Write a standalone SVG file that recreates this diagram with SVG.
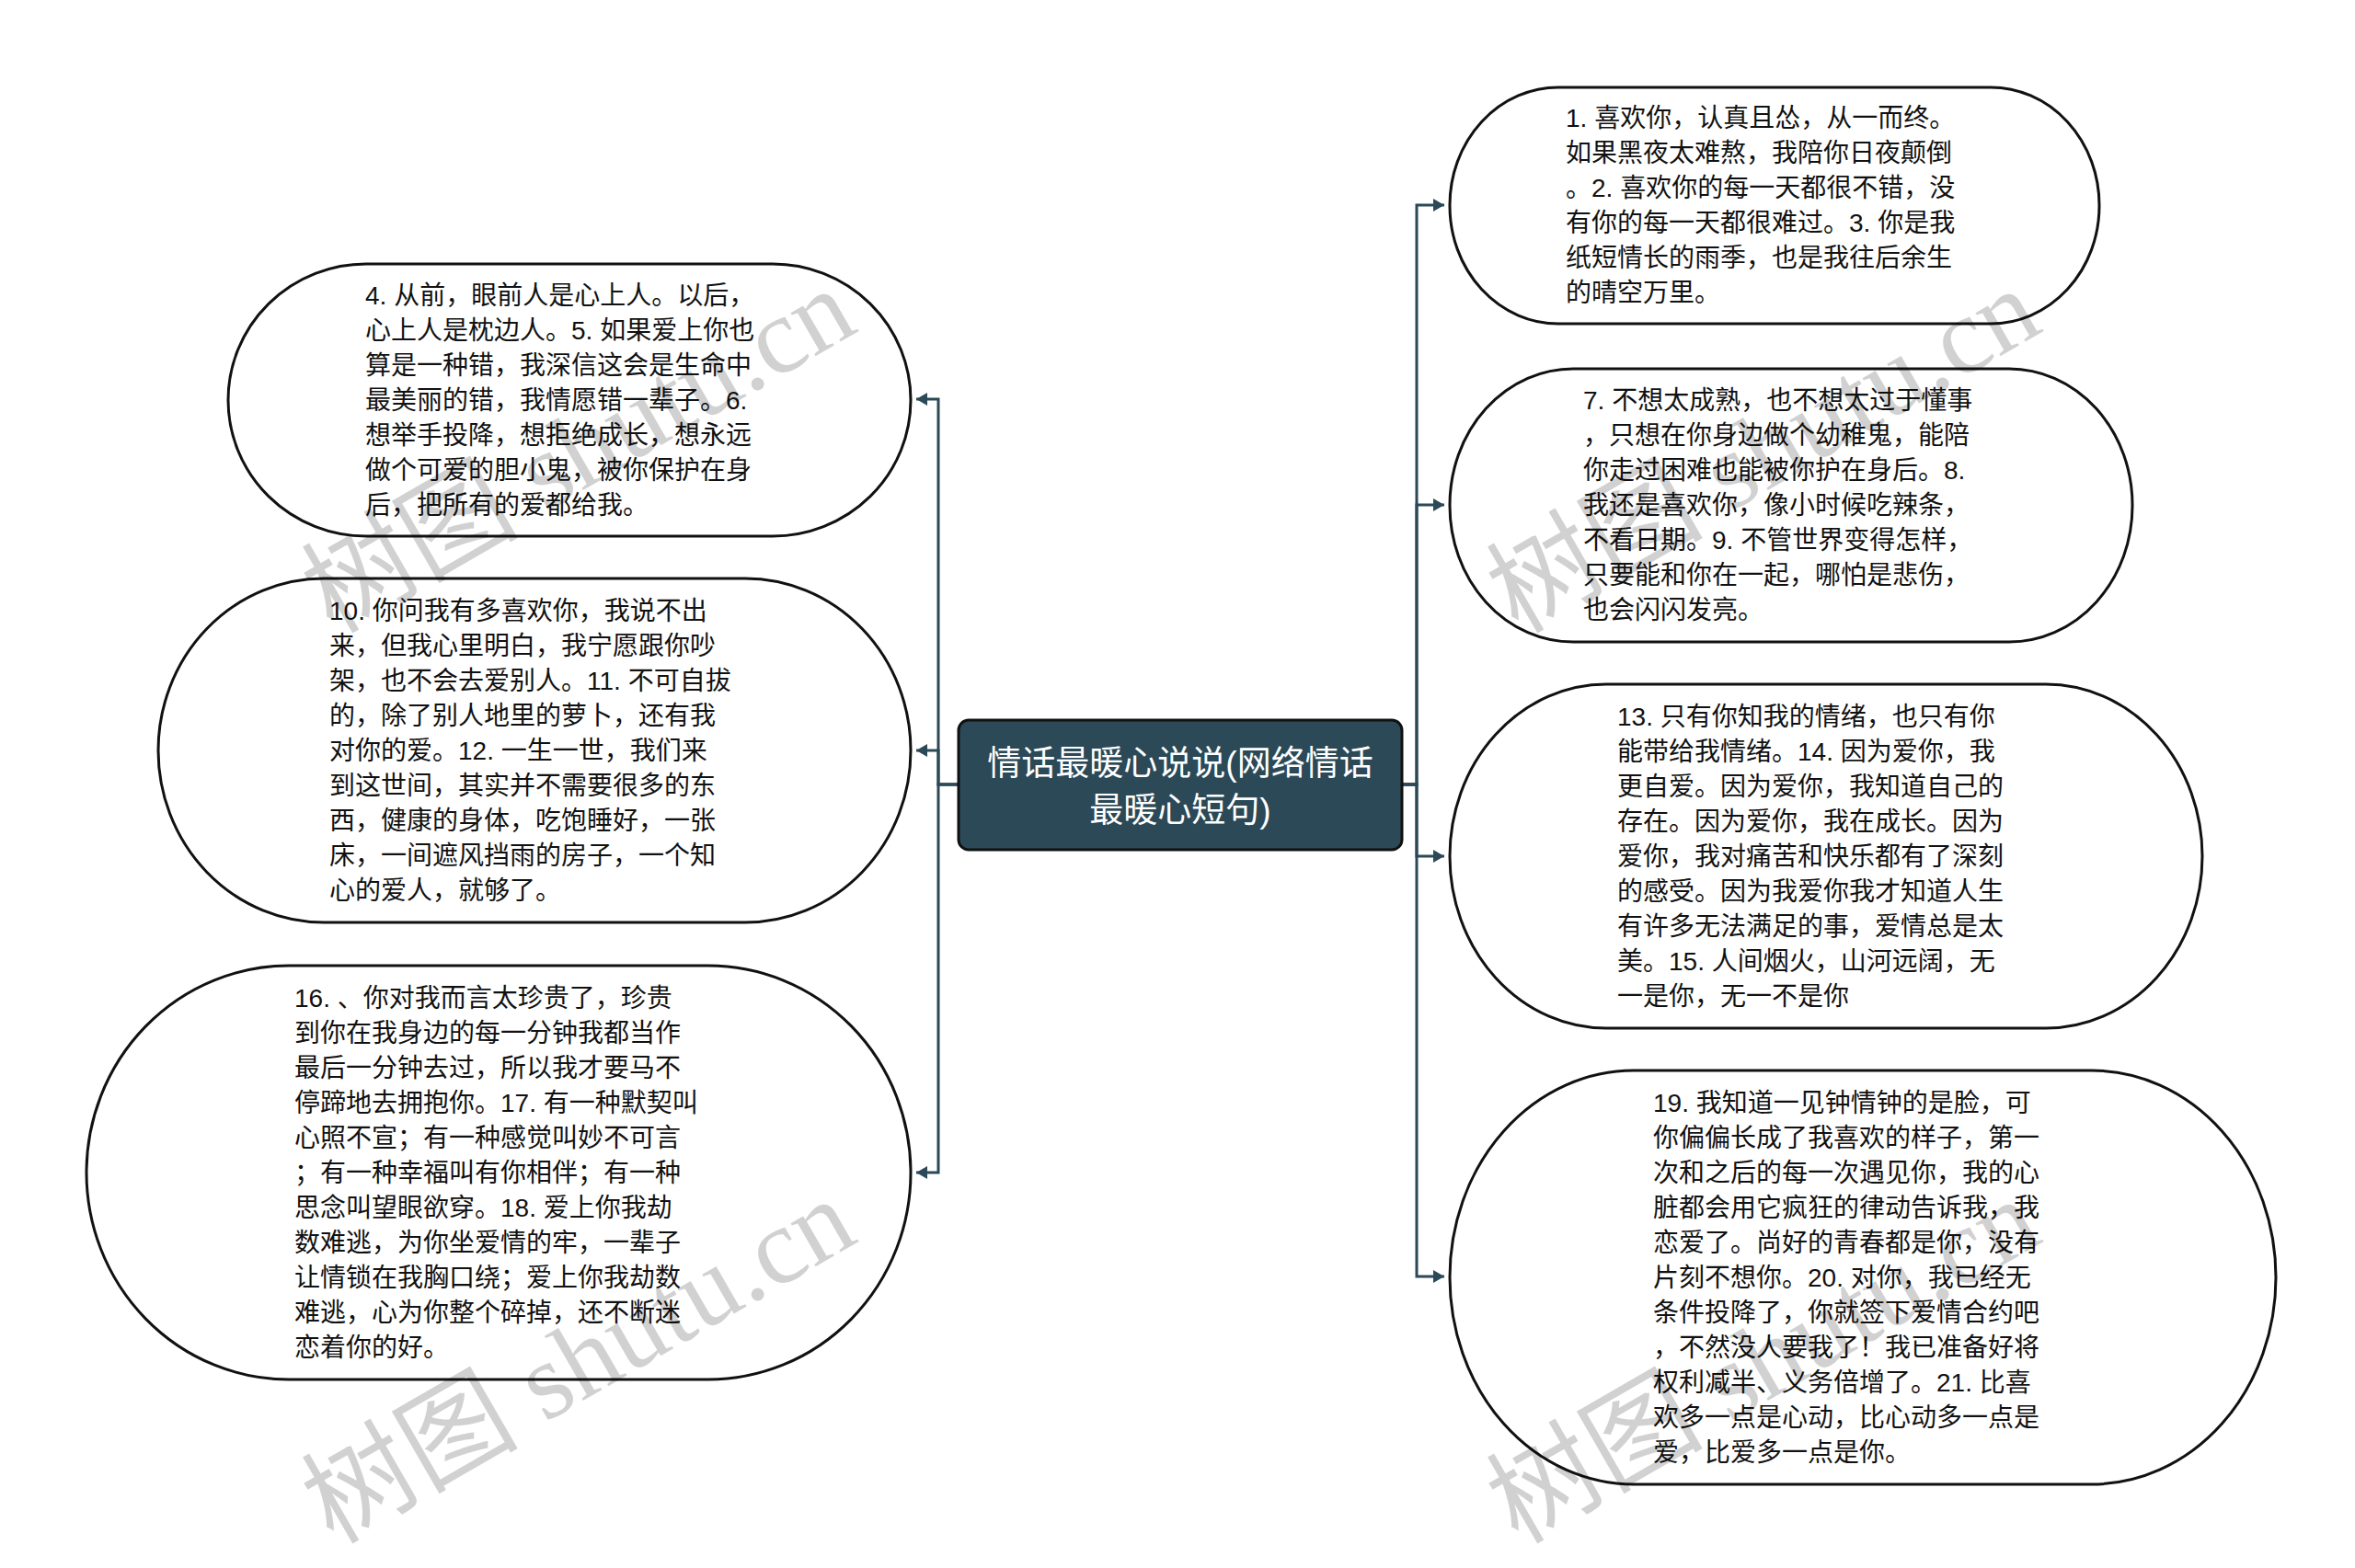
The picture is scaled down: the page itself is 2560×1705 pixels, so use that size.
<svg xmlns="http://www.w3.org/2000/svg" width="2560" height="1705" viewBox="0 0 2560 1705">
<style>
.node{fill:#ffffff;stroke:#111111;stroke-width:3}
.root{fill:#2b4957;stroke:#111111;stroke-width:3}
.t{font-family:"Liberation Sans","Noto Sans CJK SC",sans-serif;font-size:28px;fill:#111111}
.rt{font-family:"Liberation Sans","Noto Sans CJK SC",sans-serif;font-size:37px;fill:#ffffff;text-anchor:middle}
.edge{fill:none;stroke:#2b4957;stroke-width:3}
.wm{font-family:"Liberation Serif","Noto Sans CJK SC",serif;font-size:118px;fill:#000000;fill-opacity:0.18}
</style>
<defs>
<marker id="arr" markerUnits="userSpaceOnUse" markerWidth="14" markerHeight="14" refX="12" refY="7" orient="auto">
<path d="M0,0 L12,7 L0,14 Z" fill="#2b4957"/>
</marker>
</defs>
<rect x="0" y="0" width="2560" height="1705" fill="#ffffff"/>

<g id="connectors">
<path class="edge" marker-end="url(#arr)" d="M1042,853 H1020 V434 H996"/>
<path class="edge" marker-end="url(#arr)" d="M1042,853 H1020 V816 H996"/>
<path class="edge" marker-end="url(#arr)" d="M1042,853 H1020 V1275 H996"/>
<path class="edge" marker-end="url(#arr)" d="M1524,853 H1540 V223 H1570"/>
<path class="edge" marker-end="url(#arr)" d="M1524,853 H1540 V549 H1570"/>
<path class="edge" marker-end="url(#arr)" d="M1524,853 H1540 V931 H1570"/>
<path class="edge" marker-end="url(#arr)" d="M1524,853 H1540 V1388 H1570"/>
</g>

<g id="root">
<rect class="root" x="1042" y="783" width="482" height="141" rx="11" ry="11"/>
<text class="rt" x="1283" y="843">情话最暖心说说(网络情话</text>
<text class="rt" x="1283" y="894">最暖心短句)</text>
</g>

<g id="n1">
<rect class="node" x="1576" y="95" width="706" height="257" rx="118" ry="128"/>
<text class="t" x="1702" y="138"><tspan x="1702">1. 喜欢你，认真且怂，从一而终。</tspan><tspan x="1702" dy="38">如果黑夜太难熬，我陪你日夜颠倒</tspan><tspan x="1702" dy="38">。2. 喜欢你的每一天都很不错，没</tspan><tspan x="1702" dy="38">有你的每一天都很难过。3. 你是我</tspan><tspan x="1702" dy="38">纸短情长的雨季，也是我往后余生</tspan><tspan x="1702" dy="38">的晴空万里。</tspan></text>
</g>

<g id="n4">
<rect class="node" x="248" y="287" width="742" height="296" rx="150" ry="148"/>
<text class="t" x="397" y="331"><tspan x="397">4. 从前，眼前人是心上人。以后，</tspan><tspan x="397" dy="38">心上人是枕边人。5. 如果爱上你也</tspan><tspan x="397" dy="38">算是一种错，我深信这会是生命中</tspan><tspan x="397" dy="38">最美丽的错，我情愿错一辈子。6.</tspan><tspan x="397" dy="38">想举手投降，想拒绝成长，想永远</tspan><tspan x="397" dy="38">做个可爱的胆小鬼，被你保护在身</tspan><tspan x="397" dy="38">后，把所有的爱都给我。</tspan></text>
</g>

<g id="n7">
<rect class="node" x="1576" y="401" width="742" height="297" rx="134" ry="148"/>
<text class="t" x="1721" y="445"><tspan x="1721">7. 不想太成熟，也不想太过于懂事</tspan><tspan x="1721" dy="38">，只想在你身边做个幼稚鬼，能陪</tspan><tspan x="1721" dy="38">你走过困难也能被你护在身后。8.</tspan><tspan x="1721" dy="38">我还是喜欢你，像小时候吃辣条，</tspan><tspan x="1721" dy="38">不看日期。9. 不管世界变得怎样，</tspan><tspan x="1721" dy="38">只要能和你在一起，哪怕是悲伤，</tspan><tspan x="1721" dy="38">也会闪闪发亮。</tspan></text>
</g>

<g id="n10">
<rect class="node" x="172" y="629" width="818" height="374" rx="180" ry="187"/>
<text class="t" x="358" y="674"><tspan x="358">10. 你问我有多喜欢你，我说不出</tspan><tspan x="358" dy="38">来，但我心里明白，我宁愿跟你吵</tspan><tspan x="358" dy="38">架，也不会去爱别人。11. 不可自拔</tspan><tspan x="358" dy="38">的，除了别人地里的萝卜，还有我</tspan><tspan x="358" dy="38">对你的爱。12. 一生一世，我们来</tspan><tspan x="358" dy="38">到这世间，其实并不需要很多的东</tspan><tspan x="358" dy="38">西，健康的身体，吃饱睡好，一张</tspan><tspan x="358" dy="38">床，一间遮风挡雨的房子，一个知</tspan><tspan x="358" dy="38">心的爱人，就够了。</tspan></text>
</g>

<g id="n13">
<rect class="node" x="1576" y="744" width="818" height="374" rx="170" ry="187"/>
<text class="t" x="1758" y="789"><tspan x="1758">13. 只有你知我的情绪，也只有你</tspan><tspan x="1758" dy="38">能带给我情绪。14. 因为爱你，我</tspan><tspan x="1758" dy="38">更自爱。因为爱你，我知道自己的</tspan><tspan x="1758" dy="38">存在。因为爱你，我在成长。因为</tspan><tspan x="1758" dy="38">爱你，我对痛苦和快乐都有了深刻</tspan><tspan x="1758" dy="38">的感受。因为我爱你我才知道人生</tspan><tspan x="1758" dy="38">有许多无法满足的事，爱情总是太</tspan><tspan x="1758" dy="38">美。15. 人间烟火，山河远阔，无</tspan><tspan x="1758" dy="38">一是你，无一不是你</tspan></text>
</g>

<g id="n16">
<rect class="node" x="94" y="1050" width="896" height="450" rx="220" ry="225"/>
<text class="t" x="320" y="1095"><tspan x="320">16. 、你对我而言太珍贵了，珍贵</tspan><tspan x="320" dy="38">到你在我身边的每一分钟我都当作</tspan><tspan x="320" dy="38">最后一分钟去过，所以我才要马不</tspan><tspan x="320" dy="38">停蹄地去拥抱你。17. 有一种默契叫</tspan><tspan x="320" dy="38">心照不宣；有一种感觉叫妙不可言</tspan><tspan x="320" dy="38">；有一种幸福叫有你相伴；有一种</tspan><tspan x="320" dy="38">思念叫望眼欲穿。18. 爱上你我劫</tspan><tspan x="320" dy="38">数难逃，为你坐爱情的牢，一辈子</tspan><tspan x="320" dy="38">让情锁在我胸口绕；爱上你我劫数</tspan><tspan x="320" dy="38">难逃，心为你整个碎掉，还不断迷</tspan><tspan x="320" dy="38">恋着你的好。</tspan></text>
</g>

<g id="n19">
<rect class="node" x="1576" y="1164" width="898" height="450" rx="200" ry="225"/>
<text class="t" x="1797" y="1209"><tspan x="1797">19. 我知道一见钟情钟的是脸，可</tspan><tspan x="1797" dy="38">你偏偏长成了我喜欢的样子，第一</tspan><tspan x="1797" dy="38">次和之后的每一次遇见你，我的心</tspan><tspan x="1797" dy="38">脏都会用它疯狂的律动告诉我，我</tspan><tspan x="1797" dy="38">恋爱了。尚好的青春都是你，没有</tspan><tspan x="1797" dy="38">片刻不想你。20. 对你，我已经无</tspan><tspan x="1797" dy="38">条件投降了，你就签下爱情合约吧</tspan><tspan x="1797" dy="38">，不然没人要我了！我已准备好将</tspan><tspan x="1797" dy="38">权利减半、义务倍增了。21. 比喜</tspan><tspan x="1797" dy="38">欢多一点是心动，比心动多一点是</tspan><tspan x="1797" dy="38">爱，比爱多一点是你。</tspan></text>
</g>

<g id="watermarks">
<text class="wm" transform="translate(362,690) rotate(-30)">树图 shutu.cn</text>
<text class="wm" transform="translate(362,1680) rotate(-30)">树图 shutu.cn</text>
<text class="wm" transform="translate(1650,690) rotate(-30)">树图 shutu.cn</text>
<text class="wm" transform="translate(1650,1680) rotate(-30)">树图 shutu.cn</text>
</g>
</svg>
